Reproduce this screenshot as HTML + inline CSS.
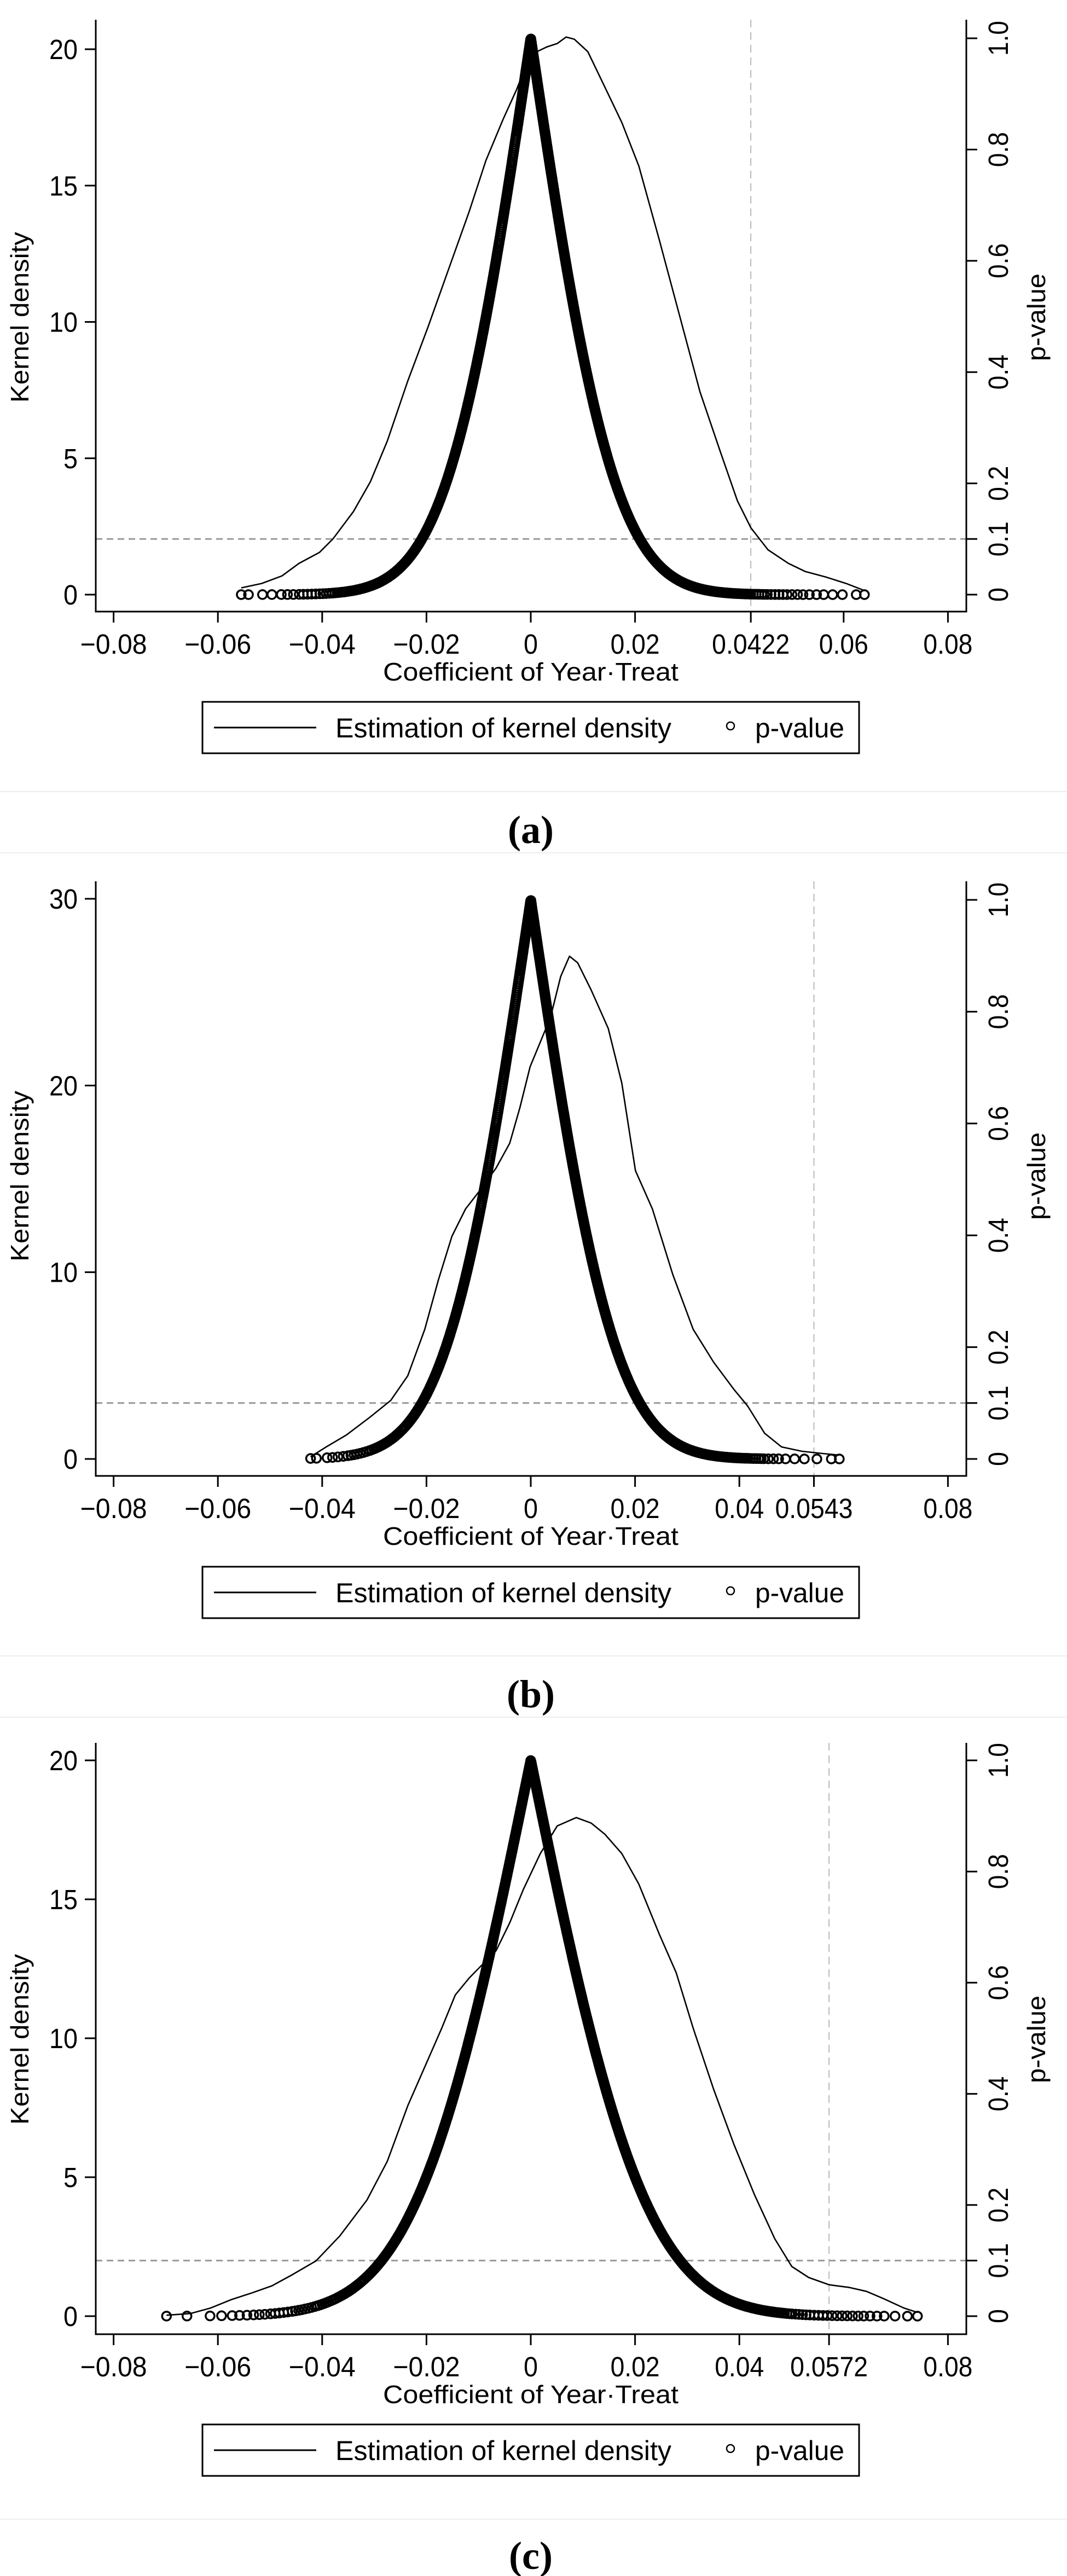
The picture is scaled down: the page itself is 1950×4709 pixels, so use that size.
<!DOCTYPE html>
<html><head><meta charset="utf-8">
<style>
html,body{margin:0;padding:0;background:#fff;}
svg{display:block;}
text{font-family:"Liberation Sans",Arial,sans-serif;fill:#000;}
</style></head>
<body>
<svg id="s" width="1950" height="4709" viewBox="0 0 1950 4709" xmlns="http://www.w3.org/2000/svg">
<rect width="1950" height="4709" fill="#fff"/>
</svg>
<script>
(function(){
var NS="http://www.w3.org/2000/svg", S=document.getElementById('s');
function el(t,a,txt){var e=document.createElementNS(NS,t);for(var k in a)e.setAttribute(k,a[k]);if(txt!==undefined)e.textContent=txt;S.appendChild(e);return e;}
function X(v){return 970+v*9530;}
function erf(x){var s=x<0?-1:1;x=Math.abs(x);var t=1/(1+0.3275911*x);var y=1-(((((1.061405429*t-1.453152027)*t)+1.421413741)*t-0.284496736)*t+0.254829592)*t*Math.exp(-x*x);return s*y;}
function Phi(z){return 0.5*(1+erf(z/Math.SQRT2));}
function lw(s){var w=0;for(var i=0;i<s.length;i++){var c=s[i];w+=(c=='.')?12:(c=='\u2212'?32:26);}return w;}
var P=[
{top:36,bot:1118,y0:1087,ymax:20,yTopV:90,p1:70,ticks:[0,5,10,15,20],
 xt:[-0.08,-0.06,-0.04,-0.02,0,0.02,0.0422,0.06,0.08],xl:['\u22120.08','\u22120.06','\u22120.04','\u22120.02','0','0.02','0.0422','0.06','0.08'],
 dx:0.0422,tb:1195,ttl:1244,lt:1283,lb:1377,cap:'(a)',capc:1517,l1:1447,l2:1559,sig:0.0127,yc:580,
 k:[[355,1080],[385,1072],[415,1058],[440,1035],[470,1015],[490,990],[520,940],[545,885],[570,810],[600,700],[630,600],[660,495],[690,390],[715,295],[740,220],[760,165],[778,108],[790,95],[805,86],[820,80],[833,68],[845,72],[865,95],[890,160],[915,225],[940,305],[970,440],[1000,580],[1030,720],[1060,830],[1085,920],[1105,970],[1130,1010],[1160,1035],[1185,1050],[1215,1060],[1245,1072],[1272,1085]],ky:function(y){return y*0.995;}},
{top:1611,bot:2698,y0:2667,ymax:30,yTopV:1643,p1:1645,ticks:[0,10,20,30],
 xt:[-0.08,-0.06,-0.04,-0.02,0,0.02,0.04,0.0543,0.08],xl:['\u22120.08','\u22120.06','\u22120.04','\u22120.02','0','0.02','0.04','0.0543','0.08'],
 dx:0.0543,tb:2775,ttl:2824,lt:2864,lb:2958,cap:'(b)',capc:3097,l1:3027,l2:3139,sig:0.0127,yc:2150,
 k:[[457,1103],[480,1085],[510,1063],[545,1030],[575,1000],[600,955],[625,870],[645,780],[665,700],[685,650],[710,610],[730,575],[750,530],[765,465],[780,390],[795,345],[810,300],[825,225],[838,188],[850,200],[870,250],[895,320],[915,420],[935,580],[960,650],[990,770],[1020,870],[1050,930],[1080,980],[1100,1010],[1125,1060],[1150,1085],[1180,1093],[1210,1097],[1235,1100]],ky:function(y){return 1560+y;}},
{top:3186,bot:4267,y0:4234,ymax:20,yTopV:3218,p1:3218,ticks:[0,5,10,15,20],
 xt:[-0.08,-0.06,-0.04,-0.02,0,0.02,0.04,0.0572,0.08],xl:['\u22120.08','\u22120.06','\u22120.04','\u22120.02','0','0.02','0.04','0.0572','0.08'],
 dx:0.0572,tb:4344,ttl:4393,lt:4432,lb:4526,cap:'(c)',capc:4672,l1:4605,l2:4760,sig:0.0174,yc:3728,
 k:[[245,1098],[280,1095],[310,1085],[340,1070],[370,1058],[400,1045],[430,1025],[465,1000],[500,955],[540,890],[570,820],[600,720],[625,650],[650,580],[670,520],[690,490],[710,465],[730,440],[750,390],[770,330],[795,265],[820,215],[848,200],[870,210],[890,230],[915,265],[940,320],[970,410],[995,480],[1020,580],[1050,690],[1080,790],[1110,880],[1140,960],[1165,1010],[1190,1030],[1220,1043],[1250,1048],[1275,1055],[1300,1068],[1330,1085],[1350,1093]],ky:function(y){return 3120+y*1.013;}}
];
P.forEach(function(p){
  var L=175,R=1766;
  function yL(v){return p.y0-v*(p.y0-p.yTopV)/p.ymax;}
  function yR(v){return p.y0-v*(p.y0-p.p1);}
  el('line',{x1:0,x2:1950,y1:p.l1,y2:p.l1,stroke:'#eeeeee','stroke-width':2});
  if(p.l2<4709) el('line',{x1:0,x2:1950,y1:p.l2,y2:p.l2,stroke:'#eeeeee','stroke-width':2});
  el('line',{x1:L,x2:R,y1:yR(0.1),y2:yR(0.1),stroke:'#999','stroke-width':3,'stroke-dasharray':'12,8'});
  el('line',{x1:X(p.dx),x2:X(p.dx),y1:p.top,y2:p.bot,stroke:'#aaa','stroke-width':1.6,'stroke-dasharray':'14,9'});
  el('path',{d:'M'+L+' '+p.top+'V'+p.bot+'H'+R+'V'+p.top,fill:'none',stroke:'#000','stroke-width':3});
  p.ticks.forEach(function(v){var y=yL(v);
    el('line',{x1:L-20,x2:L,y1:y,y2:y,stroke:'#000','stroke-width':3});
    var s=String(v); el('text',{x:142,y:y+18,'text-anchor':'end','font-size':51,textLength:s.length*26,lengthAdjust:'spacingAndGlyphs'},s);
  });
  [0,0.1,0.2,0.4,0.6,0.8,1].forEach(function(v){var y=yR(v);
    el('line',{x1:R,x2:R+20,y1:y,y2:y,stroke:'#000','stroke-width':3});
    var s=(v===0)?'0':v.toFixed(1);
    el('text',{x:0,y:0,'text-anchor':'middle','font-size':51,transform:'translate(1842,'+y+') rotate(-90)',textLength:lw(s),lengthAdjust:'spacingAndGlyphs'},s);
  });
  p.xt.forEach(function(v,i){var x=X(v);
    el('line',{x1:x,x2:x,y1:p.bot,y2:p.bot+20,stroke:'#000','stroke-width':3});
    el('text',{x:x,y:p.tb,'text-anchor':'middle','font-size':51,textLength:lw(p.xl[i]),lengthAdjust:'spacingAndGlyphs'},p.xl[i]);
  });
  el('text',{x:970,y:p.ttl,'text-anchor':'middle','font-size':46,textLength:540,lengthAdjust:'spacingAndGlyphs'},'Coefficient of Year\u00B7Treat');
  el('text',{x:0,y:0,'text-anchor':'middle','font-size':46,transform:'translate(52,'+p.yc+') rotate(-90)',textLength:312,lengthAdjust:'spacingAndGlyphs'},'Kernel density');
  el('text',{x:0,y:0,'text-anchor':'middle','font-size':46,transform:'translate(1910,'+p.yc+') rotate(-90)',textLength:160,lengthAdjust:'spacingAndGlyphs'},'p-value');
  el('rect',{x:370,y:p.lt,width:1200,height:p.lb-p.lt,fill:'none',stroke:'#000','stroke-width':3});
  var lm=(p.lt+p.lb)/2;
  el('line',{x1:391,x2:578,y1:lm,y2:lm,stroke:'#000','stroke-width':3});
  el('text',{x:613,y:lm+18,'font-size':50,textLength:614,lengthAdjust:'spacingAndGlyphs'},'Estimation of kernel density');
  el('circle',{cx:1335,cy:lm-3,r:7,fill:'none',stroke:'#000','stroke-width':2.5});
  el('text',{x:1380,y:lm+18,'font-size':50,textLength:163,lengthAdjust:'spacingAndGlyphs'},'p-value');
  el('text',{x:970,y:p.capc+24,'text-anchor':'middle','font-size':72,'font-weight':'bold',style:'font-family:"Liberation Serif",serif'},p.cap);
  var pts=p.k.map(function(q){return [q[0]*1.242,p.ky(q[1])];});
  el('polyline',{points:pts.map(function(q){return q[0].toFixed(1)+','+q[1].toFixed(1);}).join(' '),fill:'none',stroke:'#000','stroke-width':2.6,'stroke-linejoin':'round'});
  var cdf=[0];for(var i=1;i<pts.length;i++){var h0=Math.max(0,p.y0-pts[i-1][1]+4),h1=Math.max(0,p.y0-pts[i][1]+4);cdf.push(cdf[i-1]+(h0+h1)/2*(pts[i][0]-pts[i-1][0]));}
  var tot=cdf[cdf.length-1],N=900,d='';
  function addC(x){var v=(x-970)/9530;var pv=2*(1-Phi(Math.abs(v)/p.sig));var y=yR(pv);d+='M'+(x-8).toFixed(1)+' '+y.toFixed(1)+'a8 8 0 1 0 16 0a8 8 0 1 0 -16 0';}
  addC(pts[0][0]);addC(pts[pts.length-1][0]);
  var j=1;
  for(var n=0;n<N;n++){var t=(n+0.5)/N*tot;while(j<cdf.length-1&&cdf[j]<t)j++;
    var f=(t-cdf[j-1])/(cdf[j]-cdf[j-1]||1);var x=pts[j-1][0]+f*(pts[j][0]-pts[j-1][0]);addC(x);}
  el('path',{d:d,fill:'none',stroke:'#000','stroke-width':3.5});
});
})();
</script>
</body></html>
